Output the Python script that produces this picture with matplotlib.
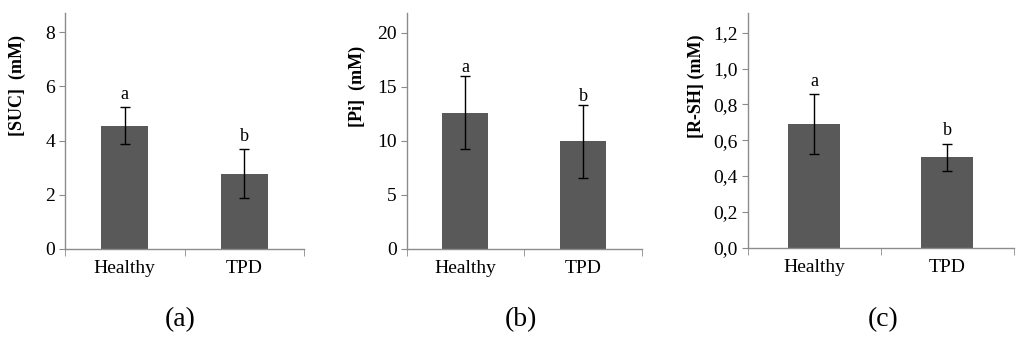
import matplotlib.pyplot as plt
from matplotlib.ticker import FuncFormatter

categories = ['Healthy', 'TPD']

suc_mean = [4.55, 2.78]
suc_err = [0.67, 0.91]
pi_mean = [12.6, 9.95]
pi_err = [3.4, 3.4]
rsh_mean = [0.69, 0.504]
rsh_err = [0.166, 0.077]

sig_letters = ['a', 'b']
ylabels = ['[SUC]  (mM)', '[Pi]  (mM)', '[R-SH] (mM)']
panel_tags = ['(a)', '(b)', '(c)']
y_ticks = [[0, 2, 4, 6, 8], [0, 5, 10, 15, 20],
           [0, 0.2, 0.4, 0.6, 0.8, 1.0, 1.2]]
y_tops = [8.7, 21.8, 1.31]

plt.rcParams['font.family'] = ['Liberation Serif', 'DejaVu Serif']

fig = plt.figure(figsize=(10.24, 3.39), dpi=100)

# axes boxes in figure fractions (left, bottom, width, height)
boxes = [(0.0635, 0.2655, 0.2334, 0.696),
         (0.397, 0.2655, 0.2298, 0.696),
         (0.730, 0.2693, 0.2600, 0.692)]
ylabel_x = [0.017, 0.349, 0.680]
tag_x = [0.176, 0.509, 0.862]
letter_pad = [3, 0, 3]

series = [(suc_mean, suc_err), (pi_mean, pi_err), (rsh_mean, rsh_err)]

for i, (means, errs) in enumerate(series):
    ax = fig.add_axes(boxes[i])
    x = list(range(len(categories)))
    ax.bar(x, means, width=0.39, color='#595959', zorder=2)
    ax.errorbar(x, means, yerr=errs, fmt='none', ecolor='black',
                elinewidth=1.0, capsize=3.5, capthick=1.0, zorder=3)
    for xi, m, e, lt in zip(x, means, errs, sig_letters):
        ax.annotate(lt, (xi, m + e), xytext=(0, letter_pad[i]),
                    textcoords='offset points', ha='center', va='bottom',
                    fontsize=13)

    ax.set_xlim(-0.5, 1.5)
    ax.set_ylim(0, y_tops[i])
    ax.set_yticks(y_ticks[i])
    if i == 2:
        ax.yaxis.set_major_formatter(
            FuncFormatter(lambda v, p: f'{v:.1f}'.replace('.', ',')))
    ax.set_xticks(x)
    ax.set_xticklabels(categories)
    ax.set_xticks([-0.5, 0.5, 1.5], minor=True)

    for s in ['top', 'right']:
        ax.spines[s].set_visible(False)
    for s in ['left', 'bottom']:
        ax.spines[s].set_color('#8c8c8c')
        ax.spines[s].set_linewidth(1.0)

    ax.tick_params(axis='y', labelsize=14, length=4, color='#8c8c8c',
                   direction='out', pad=3)
    ax.tick_params(axis='x', which='major', length=0, labelsize=14, pad=8)
    ax.tick_params(axis='x', which='minor', length=5, color='#8c8c8c',
                   direction='out')

    fig.text(ylabel_x[i], 1 - 86 / 339, ylabels[i], rotation=90,
             ha='center', va='center', fontsize=13, fontweight='bold')
    fig.text(tag_x[i], 1 - 320 / 339, panel_tags[i], ha='center',
             va='center', fontsize=20)

fig.savefig('out.png', dpi=100)
